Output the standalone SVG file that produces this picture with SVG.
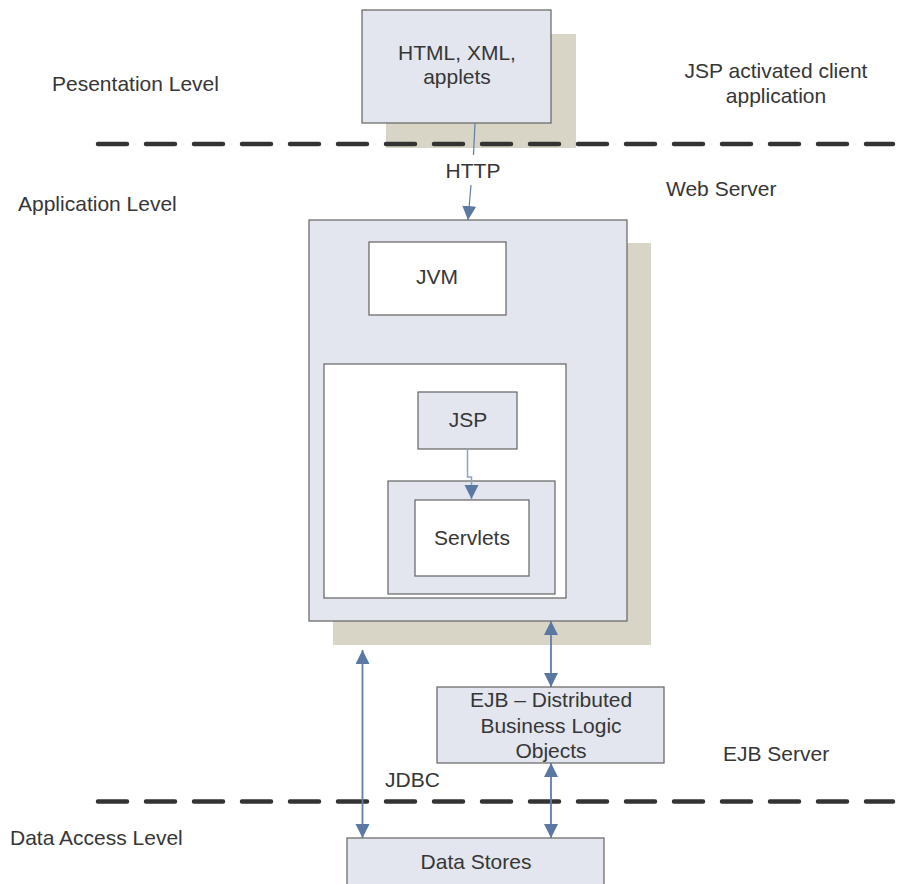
<svg xmlns="http://www.w3.org/2000/svg" width="911" height="884" viewBox="0 0 911 884">
  <style>
    text { font-family: "Liberation Sans", Arial, sans-serif; font-size: 21px; fill: #363636; }
    .mid { text-anchor: middle; }
    .box { fill: #e3e6ee; stroke: #636363; stroke-width: 1.2; }
    .white { fill: #ffffff; stroke: #636363; stroke-width: 1.2; }
    .shadow { fill: #d9d5c6; }
    .tier { stroke: #333333; stroke-width: 4.5; stroke-dasharray: 29 19; stroke-linecap: round; fill: none; }
    .link { stroke: #5f7ea6; stroke-width: 1.2; fill: none; }
    .link2 { stroke: #5f7ea6; stroke-width: 1.8; fill: none; }
    .light { stroke: #8ea3bf; stroke-width: 1.5; fill: none; }
  </style>
  <defs>
    <marker id="head" markerUnits="userSpaceOnUse" markerWidth="16" markerHeight="16" refX="14" refY="7" orient="auto">
      <path d="M0,0 L14,7 L0,14 Z" fill="#5a78a2"/>
    </marker>
    <marker id="headBig" markerUnits="userSpaceOnUse" markerWidth="16" markerHeight="16" refX="14" refY="7" orient="auto-start-reverse">
      <path d="M0,0 L14,7 L0,14 Z" fill="#5a78a2"/>
    </marker>
  </defs>

  <!-- tier labels -->
  <g id="labels">
    <text x="52" y="91">Pesentation Level</text>
    <text x="18" y="211">Application Level</text>
    <text x="10" y="845">Data Access Level</text>
    <text class="mid" x="776" y="78">JSP activated client</text>
    <text class="mid" x="776" y="103">application</text>
    <text x="666" y="196">Web Server</text>
    <text x="723" y="761">EJB Server</text>
  </g>

  <!-- client -->
  <g id="client">
    <rect class="shadow" x="386" y="34" width="190" height="114"/>
    <rect class="box" x="362" y="10" width="189" height="113"/>
    <text class="mid" x="457" y="60">HTML, XML,</text>
    <text class="mid" x="457" y="84">applets</text>
  </g>

  <!-- tier separators, drawn over the client shadow -->
  <g id="separators">
    <line class="tier" x1="98" y1="144" x2="893" y2="144"/>
    <line class="tier" x1="98" y1="801.5" x2="893" y2="801.5"/>
  </g>

  <!-- web server -->
  <g id="web-server">
    <rect class="shadow" x="333" y="243" width="318" height="402"/>
    <rect class="box" x="309" y="220" width="318" height="401"/>
  </g>

  <g id="jvm">
    <rect class="white" x="369" y="242" width="137" height="73"/>
    <text class="mid" x="437" y="284">JVM</text>
  </g>

  <g id="container">
    <rect class="white" x="324" y="364" width="242" height="234"/>
  </g>

  <g id="jsp">
    <rect class="box" x="418" y="392" width="99" height="57"/>
    <text class="mid" x="468" y="427">JSP</text>
  </g>

  <g id="servlets">
    <rect class="box" x="388" y="481" width="167" height="113"/>
    <rect class="white" x="415" y="500" width="114" height="76"/>
    <text class="mid" x="472" y="545">Servlets</text>
  </g>

  <!-- EJB tier -->
  <g id="ejb">
    <rect class="box" x="437" y="687" width="227" height="76"/>
    <text class="mid" x="551" y="707">EJB – Distributed</text>
    <text class="mid" x="551" y="733">Business Logic</text>
    <text class="mid" x="551" y="758">Objects</text>
  </g>

  <!-- data stores -->
  <g id="data-stores">
    <rect class="box" x="347" y="838" width="257" height="60"/>
    <text class="mid" x="476" y="869">Data Stores</text>
  </g>

  <!-- connectors -->
  <g id="connectors">
    <line class="link" x1="475" y1="123" x2="473.5" y2="155" />
    <line class="link" x1="471" y1="185" x2="468" y2="220" marker-end="url(#head)"/>
    <text class="mid" x="473" y="178">HTTP</text>
    <polyline class="light" points="467.5,449 467.5,477 471.5,477 471.5,499" marker-end="url(#head)"/>
    <line class="link2" x1="362.5" y1="650" x2="362.5" y2="838" marker-start="url(#headBig)" marker-end="url(#headBig)"/>
    <line class="link2" x1="551" y1="621" x2="551" y2="687" marker-start="url(#headBig)" marker-end="url(#headBig)"/>
    <line class="link2" x1="551" y1="763" x2="551" y2="838" marker-start="url(#headBig)" marker-end="url(#headBig)"/>
    <text x="385" y="787">JDBC</text>
  </g>
</svg>
